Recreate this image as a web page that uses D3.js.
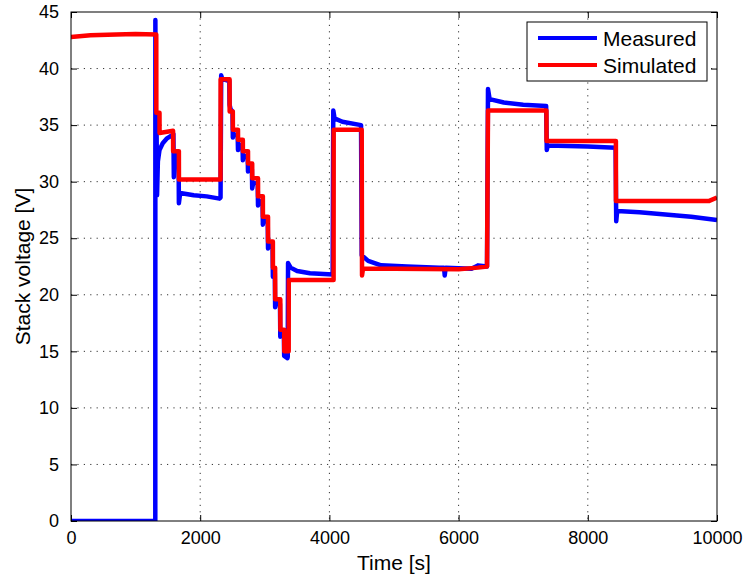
<!DOCTYPE html>
<html>
<head>
<meta charset="utf-8">
<script src="https://cdnjs.cloudflare.com/ajax/libs/d3/7.8.5/d3.min.js"></script>
<style>
  body { margin: 0; background: #fff; }
  svg { display: block; font-family: "Liberation Sans", Arial, Helvetica, sans-serif; }
</style>
</head>
<body>
<svg id="chart"></svg>
<script>
// measured stack voltage (blue)
const measuredTime = [0, 1305, 1306, 1312, 1318, 1325, 1332, 1345, 1370, 1420, 1480, 1560, 1585,
  1592, 1605, 1665, 1670, 1690, 1900, 2100, 2300, 2315, 2325, 2340, 2450,
  2455, 2470, 2500, 2505, 2520, 2580, 2585, 2600, 2655, 2660, 2675, 2735, 2740, 2755, 2800,
  2805, 2820, 2890, 2895, 2910, 2965, 2970, 2985, 3045, 3050, 3065, 3120, 3125, 3140, 3155,
  3160, 3175, 3235, 3240, 3255, 3295, 3300, 3350, 3355, 3360, 3400, 3500, 3700, 4050,
  4060, 4080, 4200, 4490, 4500, 4600, 4800, 5200, 5700, 5775, 5785, 5800, 6200, 6300, 6440,
  6455, 6480, 6700, 7000, 7355, 7365, 7380, 8000, 8430, 8440, 8455, 8800, 9200, 9600, 10000];
const measuredVoltage = [0, 0, 44.3, 36.0, 29.0, 34.5, 28.8, 31.8, 32.8, 33.4, 33.8, 34.1, 34.2,
  30.4, 32.4, 32.6, 28.1, 29.0, 28.8, 28.7, 28.5, 28.6, 39.4, 39.1, 38.9,
  36.8, 36.4, 36.2, 33.9, 34.2, 34.1, 32.8, 33.3, 33.2, 31.9, 32.3, 32.2, 30.9, 31.2, 31.1,
  29.4, 29.9, 29.8, 27.9, 28.3, 28.2, 26.2, 26.6, 26.5, 24.1, 24.4, 24.3, 21.6, 22.0, 21.9,
  18.9, 19.3, 19.2, 16.3, 16.7, 16.6, 14.6, 14.4, 14.5, 22.8, 22.4, 22.1, 21.9, 21.8,
  36.3, 35.6, 35.3, 35.0, 23.5, 23.0, 22.6, 22.5, 22.4, 22.4, 21.7, 22.4, 22.3, 22.6, 22.5,
  38.2, 37.3, 37.0, 36.8, 36.7, 32.8, 33.2, 33.1, 33.0, 26.5, 27.4, 27.3, 27.1, 26.9, 26.6];

// simulated stack voltage (red)
const simulatedTime = [0, 300, 700, 1000, 1320, 1321, 1370, 1371, 1580, 1581, 1670, 1671, 2315,
  2316, 2455, 2456, 2505, 2506, 2585, 2586, 2660, 2661, 2740, 2741, 2805, 2806, 2895,
  2896, 2970, 2971, 3050, 3051, 3125, 3126, 3160, 3161, 3240, 3241, 3300, 3301, 3370,
  3371, 4065, 4066, 4500, 4505, 4520, 5000, 6000, 6300, 6440, 6455, 7360, 7361, 8435,
  8436, 9000, 9880, 10000];
const simulatedVoltage = [42.8, 42.95, 43.0, 43.05, 43.0, 36.1, 36.1, 34.3, 34.5, 32.7, 32.7, 30.2, 30.2,
  39.05, 39.05, 36.2, 36.2, 34.6, 34.6, 33.7, 33.7, 32.7, 32.7, 31.6, 31.6, 30.3, 30.3,
  28.7, 28.7, 26.9, 26.9, 24.7, 24.7, 22.4, 22.4, 19.6, 19.6, 16.9, 16.9, 15.0, 15.0,
  21.3, 21.3, 34.6, 34.6, 21.7, 22.3, 22.3, 22.25, 22.4, 22.5, 36.3, 36.3, 33.6, 33.6,
  28.3, 28.3, 28.3, 28.6];

const xTicks = [0, 2000, 4000, 6000, 8000, 10000];
const yTicks = [0, 5, 10, 15, 20, 25, 30, 35, 40, 45];
const seriesNames = ['Measured', 'Simulated'];
const seriesColors = ['#0000ff', '#ff0000'];

const width = 746;
const height = 577;
const margin = {top: 12, right: 29, bottom: 56, left: 71};
const innerW = width - margin.left - margin.right;
const innerH = height - margin.top - margin.bottom;

const svg = d3.select('#chart')
  .attr('width', width)
  .attr('height', height);

const g = svg.append('g')
  .attr('transform', `translate(${margin.left},${margin.top})`);

const x = d3.scaleLinear().domain([0, 10000]).range([0, innerW]);
const y = d3.scaleLinear().domain([0, 45]).range([innerH, 0]);

// dotted grid
g.append('g').selectAll('line')
  .data(xTicks.slice(1, -1))
  .enter().append('line')
  .attr('x1', d => x(d)).attr('x2', d => x(d))
  .attr('y1', 0).attr('y2', innerH)
  .attr('stroke', '#333').attr('stroke-width', 1)
  .attr('stroke-dasharray', '1.2,5.2');
g.append('g').selectAll('line')
  .data(yTicks.slice(1, -1))
  .enter().append('line')
  .attr('x1', 0).attr('x2', innerW)
  .attr('y1', d => y(d)).attr('y2', d => y(d))
  .attr('stroke', '#333').attr('stroke-width', 1)
  .attr('stroke-dasharray', '1.2,5.2');

// lines
g.append('clipPath').attr('id', 'clip')
  .append('rect').attr('width', innerW).attr('height', innerH);

const line = d3.line()
  .x(d => x(d[0]))
  .y(d => y(d[1]));

const measured = d3.zip(measuredTime, measuredVoltage);
const simulated = d3.zip(simulatedTime, simulatedVoltage);

g.append('path')
  .datum(measured)
  .attr('clip-path', 'url(#clip)')
  .attr('fill', 'none')
  .attr('stroke', seriesColors[0])
  .attr('stroke-width', 4.5)
  .attr('stroke-linejoin', 'round')
  .attr('d', line);

g.append('path')
  .datum(simulated)
  .attr('clip-path', 'url(#clip)')
  .attr('fill', 'none')
  .attr('stroke', seriesColors[1])
  .attr('stroke-width', 4.5)
  .attr('stroke-linejoin', 'round')
  .attr('d', line);

// axes, matlab style: ticks inside on all 4 sides
const tickLen = 6;
const xAxis = d3.axisBottom(x).tickValues(xTicks).tickFormat(d3.format('d'))
  .tickSizeInner(-tickLen).tickSizeOuter(0).tickPadding(10);
const yAxis = d3.axisLeft(y).tickValues(yTicks)
  .tickSizeInner(-tickLen).tickSizeOuter(0).tickPadding(12);

g.append('g')
  .attr('transform', `translate(0,${innerH})`)
  .call(xAxis);
g.append('g').call(yAxis);

g.append('g')
  .call(d3.axisTop(x).tickValues(xTicks).tickSizeInner(-tickLen).tickSizeOuter(0).tickFormat(''));
g.append('g')
  .attr('transform', `translate(${innerW},0)`)
  .call(d3.axisRight(y).tickValues(yTicks).tickSizeInner(-tickLen).tickSizeOuter(0).tickFormat(''));

g.selectAll('.domain').remove();
g.selectAll('.tick line').attr('stroke', '#000');
g.selectAll('.tick text')
  .attr('fill', '#000')
  .style('font-size', '18px')
  .style('font-family', '"Liberation Sans", Arial, sans-serif');

g.append('rect')
  .attr('width', innerW).attr('height', innerH)
  .attr('fill', 'none').attr('stroke', '#000').attr('stroke-width', 1);

// axis labels
svg.append('text')
  .attr('x', margin.left + innerW / 2)
  .attr('y', 570)
  .attr('text-anchor', 'middle')
  .style('font-size', '21px')
  .text('Time [s]');

svg.append('text')
  .attr('transform', `translate(30,${margin.top + innerH / 2}) rotate(-90)`)
  .attr('text-anchor', 'middle')
  .style('font-size', '21px')
  .text('Stack voltage [V]');

// legend
const legend = svg.append('g').attr('transform', 'translate(527,22)');
legend.append('rect')
  .attr('width', 180).attr('height', 59)
  .attr('fill', '#fff').attr('stroke', '#000').attr('stroke-width', 1);

seriesNames.forEach((name, i) => {
  const ly = 16 + i * 27;
  legend.append('line')
    .attr('x1', 11).attr('x2', 70)
    .attr('y1', ly).attr('y2', ly)
    .attr('stroke', seriesColors[i]).attr('stroke-width', 4);
  legend.append('text')
    .attr('x', 76).attr('y', ly + 7.5)
    .style('font-size', '21px')
    .text(name);
});
</script>
</body>
</html>
